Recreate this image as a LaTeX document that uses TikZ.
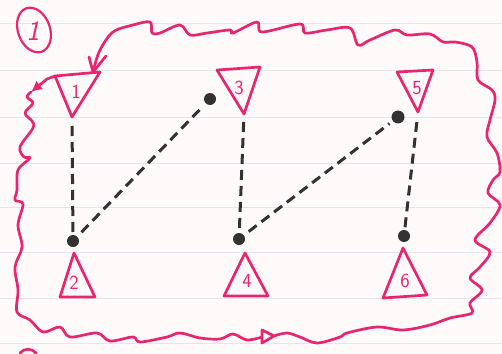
\documentclass[tikz,border=0pt]{standalone}
\usetikzlibrary{arrows.meta}
\definecolor{pinkink}{RGB}{232,38,112}
\definecolor{inkdark}{RGB}{50,50,50}
\definecolor{paper}{RGB}{254,250,250}
\definecolor{rulecol}{RGB}{230,228,238}
\begin{document}
\begin{tikzpicture}[x=1pt,y=-1pt,
  pinkline/.style={draw=pinkink,line width=2.7pt,line join=round,line cap=round},
  tri/.style={pinkline},
  lbl/.style={text=pinkink,font=\sffamily\fontsize{20}{20}\selectfont,inner sep=0pt},
  dashline/.style={draw=inkdark,line width=3pt,dash pattern=on 10pt off 6pt},
  inkdot/.style={circle,fill=inkdark,minimum size=12pt,inner sep=0pt},
]
\fill[paper] (0,0) rectangle (502,353);
\useasboundingbox (0,0) rectangle (502,353);
\foreach \yy in {23,70,117,163,207,252,298,343}
  \draw[rulecol,line width=0.8pt] (0,\yy) -- (502,\yy);

% circled number
\draw[pinkline,line width=2.2pt,rotate around={20:(34,30)}] (34,30) ellipse [x radius=16pt,y radius=23pt];
\node[lbl,font=\sffamily\itshape\fontsize{28}{28}\selectfont] (n0) at (33,31) {1};

% triangles
\coordinate (t1l) at (55,76); \coordinate (t1r) at (100,72); \coordinate (t1a) at (72,117);
\coordinate (t3l) at (217,70); \coordinate (t3r) at (260,67); \coordinate (t3a) at (244,114);
\coordinate (t5l) at (397,72); \coordinate (t5r) at (433,70); \coordinate (t5a) at (418,112);
\coordinate (t2a) at (74,253); \coordinate (t2l) at (60,297); \coordinate (t2r) at (95,297);
\coordinate (t4a) at (245,253); \coordinate (t4l) at (224,296); \coordinate (t4r) at (268,296);
\coordinate (t6a) at (403,248); \coordinate (t6l) at (383,298); \coordinate (t6r) at (427,295);
\foreach \t in {t1,t3,t5,t2,t4,t6} \draw[tri] (\t l) -- (\t r) -- (\t a) -- cycle;
\node[lbl] (l1) at (76,92) {1};
\node[lbl] (l3) at (239,88) {3};
\node[lbl] (l5) at (417,88) {5};
\node[lbl] (l2) at (74,283) {2};
\node[lbl] (l4) at (247,281) {4};
\node[lbl] (l6) at (405,281) {6};

% dots
\node[inkdot] (dA) at (73,241) {};
\node[inkdot] (dB) at (210,99) {};
\node[inkdot] (dC) at (239,239) {};
\node[inkdot,minimum size=13pt] (dD) at (398,117) {};
\node[inkdot] (dE) at (404,236) {};

% dashed connectors
\draw[dashline,shorten <=9pt,shorten >=2pt] (t1a) -- (dA);
\draw[dashline,shorten <=6pt,shorten >=4pt] (dA) -- (dB);
\draw[dashline,shorten <=8pt,shorten >=2pt] (t3a) -- (dC);
\draw[dashline,shorten <=6pt,shorten >=4pt] (dC) -- (dD);
\draw[dashline,shorten <=10pt,shorten >=2pt] (t5a) -- (dE);

% pink loop
\coordinate (ls) at (31,92);
\draw[pinkline,-{Latex[length=11pt,width=11pt]}] (t1l) -- (47,79) -- (ls);
\draw[pinkline] plot[smooth,tension=0.55] coordinates {
 (31,92) (27,97) (33,103) (25,113) (32,121) (33,128) (20,147) (24,157) (30,158)
 (18,170) (17,190) (15,200) (23,204) (18,225) (22,247) (15,267) (18,290) (17,312)
 (30,320) (43,332) (60,327) (70,337) (97,333) (110,341) (133,337) (140,342)
 (167,337) (180,333) (200,338) (220,339) (233,334) (247,340) (262,337)};
\draw[pinkline] (262,330) -- (274,336) -- (262,343) -- cycle;
\draw[pinkline] plot[smooth,tension=0.55] coordinates {
 (274,336) (287,333) (300,337) (317,343) (340,337) (347,333) (377,327) (403,330)
 (430,325) (450,318) (472,313) (470,303) (482,290) (470,278) (480,267) (490,252)
 (475,240) (490,223) (500,205) (488,193) (493,180) (500,172) (497,153) (487,137)
 (490,120) (495,100) (492,90) (478,80) (477,62) (472,47) (455,42) (443,42) (430,34)
 (407,35) (395,30) (370,40) (358,45) (350,28) (327,30) (305,33) (300,24) (262,32)
 (257,22) (233,33) (230,30) (207,33) (190,35) (180,25) (160,33) (152,33) (150,22)
 (133,25) (113,32) (100,50) (94,68)};
\draw[pinkline] (89,57) -- (93,72) -- (106,56);

% partial mark at bottom left
\draw[pinkline] (20,353) .. controls (24,348) and (32,348) .. (36,353);
\end{tikzpicture}
\end{document}
